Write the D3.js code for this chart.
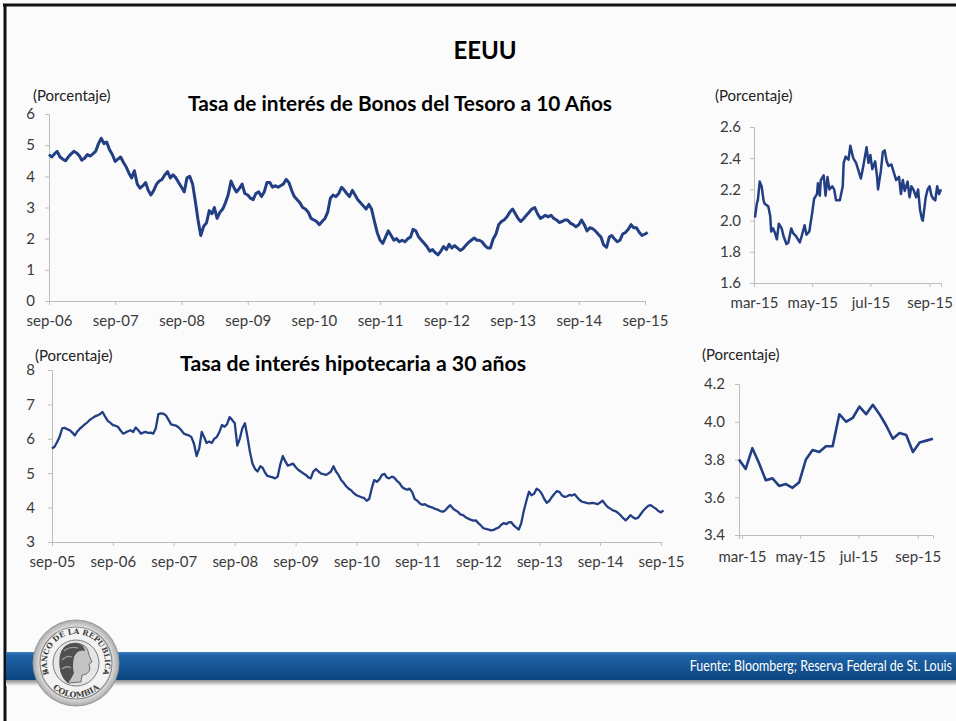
<!DOCTYPE html>
<html>
<head>
<meta charset="utf-8">
<script src="https://cdn.jsdelivr.net/npm/d3@7/dist/d3.min.js"></script>
<style>
  body { margin: 0; background: #fbfbfb; }
  text { font-family: Lato, "Noto Sans", sans-serif; }
</style>
</head>
<body>
<svg id="chart" width="956" height="721"></svg>
<script>
// Tasa bonos del Tesoro 10 años, quincenal (1 y 16 de cada mes) desde sep-06
const bonosStart = '2006-09-01'
const bonos10 = [
  4.70, 4.62, 4.72, 4.80, 4.62, 4.55, 4.50, 4.62,
  4.72, 4.80, 4.75, 4.65, 4.52, 4.58, 4.70, 4.65, 4.72, 4.80, 5.05, 5.22, 5.05, 5.10, 4.85, 4.70, 4.48, 4.55, 4.62, 4.45, 4.30, 4.10, 3.95, 4.18,
  3.75, 3.62, 3.70, 3.80, 3.55, 3.40, 3.55, 3.75, 3.85, 3.90, 4.05, 4.15, 3.95, 4.05, 3.95, 3.80, 3.65, 3.50, 3.95, 4.00, 3.75, 3.20, 2.60, 2.10,
  2.40, 2.50, 2.90, 2.80, 3.00, 2.65, 2.85, 2.95, 3.15, 3.40, 3.85, 3.65, 3.50, 3.60, 3.75, 3.45, 3.40, 3.30, 3.25, 3.45, 3.50, 3.35, 3.50, 3.80,
  3.80, 3.65, 3.70, 3.65, 3.70, 3.75, 3.90, 3.80, 3.55, 3.35, 3.25, 3.15, 3.00, 2.95, 2.85, 2.65, 2.60, 2.55, 2.45, 2.55, 2.65, 2.85, 3.30, 3.40,
  3.35, 3.45, 3.65, 3.55, 3.45, 3.35, 3.55, 3.40, 3.25, 3.15, 3.05, 2.95, 3.10, 2.95, 2.55, 2.20, 1.95, 1.85, 2.05, 2.25, 2.10, 1.95, 2.00, 1.90,
  1.95, 1.90, 2.00, 2.05, 2.30, 2.25, 2.05, 1.95, 1.85, 1.75, 1.60, 1.65, 1.55, 1.48, 1.60, 1.75, 1.65, 1.82, 1.70, 1.78, 1.70, 1.62, 1.68, 1.78,
  1.88, 1.95, 2.02, 1.95, 1.95, 1.90, 1.78, 1.70, 1.70, 1.98, 2.15, 2.45, 2.55, 2.60, 2.70, 2.85, 2.95, 2.80, 2.65, 2.55, 2.65, 2.75, 2.85, 2.95,
  3.00, 2.80, 2.65, 2.70, 2.75, 2.70, 2.75, 2.65, 2.60, 2.52, 2.55, 2.60, 2.60, 2.50, 2.45, 2.38, 2.45, 2.60, 2.45, 2.25, 2.35, 2.32, 2.25, 2.15,
  2.05, 1.80, 1.72, 2.05, 2.10, 2.00, 1.90, 1.95, 2.15, 2.20, 2.30, 2.45, 2.35, 2.35, 2.20, 2.10, 2.15, 2.20
]
const bonosLabels = ['sep-06', 'sep-07', 'sep-08', 'sep-09', 'sep-10', 'sep-11', 'sep-12', 'sep-13', 'sep-14', 'sep-15']
const bonosYTicks = [0, 1, 2, 3, 4, 5, 6]

// detalle 2015: días desde el 1 de marzo y tasa
const bonos2015Day = [
  1, 3, 4, 6, 8, 10, 11, 15, 17, 18, 20, 22, 24, 26, 29, 31, 34, 36, 39, 41, 44, 48, 50, 53, 55, 58,
  61, 63, 66, 67, 69, 70, 73, 75, 77, 79, 82, 84, 86, 90, 93, 94, 96, 99, 101, 104, 107, 109, 112, 114,
  116, 118, 120, 122, 124, 127, 129, 130, 133, 135, 137, 139, 141, 144, 147, 149, 152, 154, 156, 158,
  161, 163, 165, 167, 170, 172, 174, 176, 177, 180, 182, 184, 186, 188, 190, 192, 194, 196
]
const bonos2015 = [
  2.02, 2.11, 2.13, 2.25, 2.22, 2.13, 2.11, 2.09, 2.03, 1.93, 1.95, 1.92, 1.88, 1.98, 1.95, 1.90, 1.85, 1.86, 1.95, 1.92, 1.90, 1.86, 1.90, 1.97, 1.91, 1.93,
  2.05, 2.14, 2.17, 2.24, 2.16, 2.26, 2.29, 2.16, 2.28, 2.20, 2.22, 2.20, 2.13, 2.13, 2.22, 2.37, 2.41, 2.39, 2.48, 2.40, 2.37, 2.33, 2.27, 2.33,
  2.40, 2.47, 2.37, 2.42, 2.33, 2.38, 2.28, 2.20, 2.32, 2.44, 2.45, 2.38, 2.35, 2.36, 2.30, 2.26, 2.28, 2.17, 2.26, 2.19,
  2.25, 2.15, 2.22, 2.20, 2.15, 2.20, 2.07, 2.01, 2.00, 2.15, 2.20, 2.22, 2.16, 2.14, 2.13, 2.22, 2.17, 2.20
]
const bonos2015YTicks = [1.6, 1.8, 2.0, 2.2, 2.4, 2.6]
const detalleLabels = ['mar-15', 'may-15', 'jul-15', 'sep-15']

// Tasa hipotecaria 30 años, quincenal desde sep-05
const hipoStart = '2005-09-01'
const hipo30 = [
  5.72, 5.77, 5.90, 6.05, 6.30, 6.32, 6.28, 6.25,
  6.18, 6.10, 6.22, 6.30, 6.35, 6.42, 6.48, 6.55, 6.60, 6.65, 6.68, 6.72, 6.78, 6.65, 6.52, 6.47, 6.40, 6.38, 6.35, 6.25, 6.15, 6.18, 6.22, 6.25,
  6.20, 6.33, 6.25, 6.15, 6.18, 6.20, 6.17, 6.18, 6.15, 6.30, 6.72, 6.74, 6.73, 6.68, 6.55, 6.42, 6.40, 6.38, 6.33, 6.25, 6.15, 6.12, 6.10, 6.05,
  5.85, 5.50, 5.72, 6.20, 6.05, 5.88, 5.92, 5.88, 6.00, 6.05, 6.20, 6.40, 6.35, 6.42, 6.63, 6.55, 6.45, 5.80, 6.00, 6.30, 6.45, 6.05, 5.62, 5.28,
  5.12, 5.05, 5.20, 5.15, 5.02, 4.92, 4.90, 4.88, 4.85, 4.90, 5.25, 5.50, 5.35, 5.22, 5.25, 5.28, 5.18, 5.10, 5.05, 5.00, 4.95, 4.88, 4.85, 5.05,
  5.12, 5.05, 4.99, 4.97, 4.95, 4.99, 5.05, 5.20, 5.05, 4.95, 4.80, 4.72, 4.62, 4.55, 4.50, 4.42, 4.36, 4.33, 4.30, 4.28, 4.20, 4.25, 4.55, 4.80,
  4.75, 4.82, 4.95, 4.98, 4.88, 4.85, 4.90, 4.87, 4.78, 4.72, 4.60, 4.55, 4.52, 4.55, 4.45, 4.25, 4.20, 4.12, 4.08, 4.10, 4.05, 4.02, 4.00, 3.96,
  3.94, 3.90, 3.88, 3.92, 4.00, 4.07, 3.98, 3.92, 3.88, 3.80, 3.78, 3.72, 3.68, 3.65, 3.62, 3.63, 3.55, 3.48, 3.40, 3.38, 3.36, 3.34, 3.35, 3.39,
  3.42, 3.50, 3.55, 3.52, 3.57, 3.58, 3.48, 3.42, 3.36, 3.55, 3.92, 4.20, 4.46, 4.36, 4.40, 4.55, 4.50, 4.40, 4.25, 4.14, 4.20, 4.31, 4.40, 4.48,
  4.45, 4.35, 4.31, 4.33, 4.37, 4.35, 4.39, 4.30, 4.22, 4.17, 4.15, 4.13, 4.12, 4.14, 4.12, 4.10, 4.15, 4.20, 4.10, 4.02, 3.97, 3.92, 3.90, 3.85,
  3.78, 3.70, 3.63, 3.70, 3.78, 3.72, 3.68, 3.70, 3.80, 3.90, 3.98, 4.05, 4.07, 4.02, 3.97, 3.90, 3.86, 3.92
]
const hipoLabels = ['sep-05', 'sep-06', 'sep-07', 'sep-08', 'sep-09', 'sep-10', 'sep-11', 'sep-12', 'sep-13', 'sep-14', 'sep-15']
const hipoYTicks = [3, 4, 5, 6, 7, 8]

// detalle 2015 semanal desde el 26 de febrero
const hipo2015Start = '2015-02-26'
const hipo2015 = [
  3.80, 3.75, 3.86, 3.78, 3.69, 3.70, 3.66, 3.67, 3.65, 3.68, 3.80, 3.85, 3.84, 3.87, 3.87,
  4.04, 4.00, 4.02, 4.08, 4.04, 4.09, 4.04, 3.98, 3.91, 3.94, 3.93, 3.84, 3.89, 3.90, 3.91
]
const hipo2015YTicks = [3.4, 3.6, 3.8, 4.0, 4.2]

const parse = d3.timeParse('%Y-%m-%d')
const lineColor = '#223f84'

const svg = d3.select('#chart')

// semi-monthly dates: 1st and 16th
function halfMonths(start, n) {
  const s = parse(start)
  return d3.range(n).map(i => {
    const m = d3.timeMonth.offset(s, Math.floor(i / 2))
    return i % 2 ? d3.timeDay.offset(m, 15) : m
  })
}

function panel(o) {
  const x = d3.scaleTime().domain(o.xDomain).range([o.left, o.right])
  const y = d3.scaleLinear().domain(d3.extent(o.yTicks)).range([o.bottom, o.top])
  const g = svg.append('g')

  const xAxis = g.append('g')
    .attr('transform', `translate(0,${o.bottom})`)
    .call(d3.axisBottom(x).tickValues(o.xTicks).tickSizeOuter(0).tickSize(4)
      .tickPadding(o.xPad).tickFormat((d, i) => o.xLabels[i]))
  const yAxis = g.append('g')
    .attr('transform', `translate(${o.left},0)`)
    .call(d3.axisLeft(y).tickValues(o.yTicks).tickSizeOuter(0).tickSize(4)
      .tickPadding(o.yPad).tickFormat(o.fmt))
  ;[xAxis, yAxis].forEach(a => {
    a.select('.domain').attr('stroke', '#bdbdbd')
    a.selectAll('.tick line').attr('stroke', '#bdbdbd')
    a.selectAll('.tick text').attr('fill', '#3a3a3a').style('font-size', '15px')
    a.attr('font-family', null)
  })

  g.append('path')
    .datum(o.dates.map((d, i) => [d, o.values[i]]))
    .attr('fill', 'none')
    .attr('stroke', lineColor)
    .attr('stroke-width', o.width)
    .attr('stroke-linejoin', 'round')
    .attr('d', d3.line().x(d => x(d[0])).y(d => y(d[1])))
}

// borders
svg.append('line').attr('x1', 3).attr('x2', 956).attr('y1', 5).attr('y2', 5).attr('stroke', '#111').attr('stroke-width', 3)
svg.append('line').attr('x1', 5).attr('x2', 5).attr('y1', 4).attr('y2', 721).attr('stroke', '#111').attr('stroke-width', 3)

// main titles
svg.append('text').attr('x', 485).attr('y', 59).attr('text-anchor', 'middle')
  .style('font-size', '24px').style('font-weight', 'bold').text('EEUU')
svg.append('text').attr('x', 188).attr('y', 111).attr('textLength', 424).attr('lengthAdjust', 'spacingAndGlyphs')
  .style('font-size', '21px').style('font-weight', 'bold').text('Tasa de interés de Bonos del Tesoro a 10 Años')
svg.append('text').attr('x', 180).attr('y', 371).attr('textLength', 346).attr('lengthAdjust', 'spacingAndGlyphs')
  .style('font-size', '21px').style('font-weight', 'bold').text('Tasa de interés hipotecaria a 30 años')

// unit labels
;[[33, 101], [715, 101], [35, 361], [702, 360]].forEach(p => {
  svg.append('text').attr('x', p[0]).attr('y', p[1]).attr('fill', '#222')
    .style('font-size', '15px').text('(Porcentaje)')
})

// top-left: bonos 10 años
const bonosDates = halfMonths(bonosStart, bonos10.length)
const bonosTickDates = bonosLabels.map((l, i) => d3.timeYear.offset(parse(bonosStart), i))
panel({
  left: 49, right: 645, top: 114, bottom: 301,
  xDomain: [bonosTickDates[0], bonosTickDates[bonosTickDates.length - 1]],
  xTicks: bonosTickDates, xLabels: bonosLabels, xPad: 10,
  yTicks: bonosYTicks, fmt: d3.format('d'), yPad: 10,
  dates: bonosDates, values: bonos10, width: 3
})

// top-right: bonos 2015
const mar1 = parse('2015-03-01')
const detalleTicks = detalleLabels.map((l, i) => d3.timeMonth.offset(mar1, i * 2))
panel({
  left: 754, right: 941, top: 127, bottom: 283,
  xDomain: [mar1, d3.timeDay.offset(mar1, d3.max(bonos2015Day))],
  xTicks: detalleTicks, xLabels: detalleLabels, xPad: 10,
  yTicks: bonos2015YTicks, fmt: d3.format('.1f'), yPad: 9,
  dates: bonos2015Day.map(d => d3.timeDay.offset(mar1, d)), values: bonos2015, width: 2.5
})

// bottom-left: hipotecaria 30 años
const hipoDates = halfMonths(hipoStart, hipo30.length)
const hipoTickDates = hipoLabels.map((l, i) => d3.timeYear.offset(parse(hipoStart), i))
panel({
  left: 52, right: 661, top: 370, bottom: 542,
  xDomain: [hipoTickDates[0], hipoTickDates[hipoTickDates.length - 1]],
  xTicks: hipoTickDates, xLabels: hipoLabels, xPad: 10,
  yTicks: hipoYTicks, fmt: d3.format('d'), yPad: 13,
  dates: hipoDates, values: hipo30, width: 2.3
})

// bottom-right: hipotecaria 2015
const hipo2015Dates = hipo2015.map((v, i) => d3.timeDay.offset(parse(hipo2015Start), i * 7))
panel({
  left: 739, right: 933, top: 384, bottom: 535,
  xDomain: [hipo2015Dates[0], hipo2015Dates[hipo2015Dates.length - 1]],
  xTicks: detalleTicks, xLabels: detalleLabels, xPad: 12,
  yTicks: hipo2015YTicks, fmt: d3.format('.1f'), yPad: 10,
  dates: hipo2015Dates, values: hipo2015, width: 2.6
})

// footer band
const defs = svg.append('defs')
const bandGrad = defs.append('linearGradient').attr('id', 'band').attr('x1', 0).attr('x2', 0).attr('y1', 0).attr('y2', 1)
bandGrad.append('stop').attr('offset', '0%').attr('stop-color', '#3d7fbf')
bandGrad.append('stop').attr('offset', '12%').attr('stop-color', '#1f63a8')
bandGrad.append('stop').attr('offset', '100%').attr('stop-color', '#0b457f')
const shadowGrad = defs.append('linearGradient').attr('id', 'shadow').attr('x1', 0).attr('x2', 0).attr('y1', 0).attr('y2', 1)
shadowGrad.append('stop').attr('offset', '0%').attr('stop-color', '#8c8c8c')
shadowGrad.append('stop').attr('offset', '100%').attr('stop-color', '#fbfbfb')
const ringGrad = defs.append('radialGradient').attr('id', 'ring')
ringGrad.append('stop').attr('offset', '78%').attr('stop-color', '#f4f4f4')
ringGrad.append('stop').attr('offset', '100%').attr('stop-color', '#a9a9a9')

svg.append('rect').attr('x', 6).attr('y', 680).attr('width', 950).attr('height', 6).attr('fill', 'url(#shadow)')
svg.append('rect').attr('x', 6).attr('y', 652).attr('width', 950).attr('height', 28).attr('fill', 'url(#band)')
svg.append('text').attr('transform', 'translate(952,671) scale(0.86,1)').attr('text-anchor', 'end')
  .attr('fill', '#fff').style('font-size', '14.5px').text('Fuente: Bloomberg; Reserva Federal de St. Louis')

// logo Banco de la República
const logo = svg.append('g').attr('transform', 'translate(76,663)')
logo.append('circle').attr('r', 43).attr('fill', 'url(#ring)').attr('stroke', '#999')
logo.append('circle').attr('r', 36).attr('fill', '#f3f3f3').attr('stroke', '#8a8a8a').attr('stroke-width', 1.2)
logo.append('circle').attr('r', 23).attr('fill', '#e6e6e6').attr('stroke', '#7a7a7a')
defs.append('path').attr('id', 'arcTop').attr('d', 'M -21.6 19.3 A 29 29 0 1 1 21.6 19.3')
defs.append('path').attr('id', 'arcBot').attr('d', 'M -28 20 A 34.4 34.4 0 0 0 28 20')
logo.append('text').style('font-size', '7.5px').style('font-weight', 'bold').attr('fill', '#3c3c3c')
  .style('font-family', '"DejaVu Serif", serif')
  .append('textPath').attr('href', '#arcTop').attr('startOffset', '50%').attr('text-anchor', 'middle')
  .text('BANCO DE LA REPUBLICA')
logo.append('text').style('font-size', '8px').style('font-weight', 'bold').attr('fill', '#3c3c3c')
  .style('font-family', '"DejaVu Serif", serif')
  .append('textPath').attr('href', '#arcBot').attr('startOffset', '50%').attr('text-anchor', 'middle')
  .text('COLOMBIA')
logo.append('circle').attr('cx', -30).attr('cy', 8).attr('r', 1.3).attr('fill', '#444')
logo.append('circle').attr('cx', 30).attr('cy', 8).attr('r', 1.3).attr('fill', '#444')
// head in profile
logo.append('path')
  .attr('d', 'M -16 -6 Q -14 -20 0 -20 Q 12 -19 13 -8 L 16 -1 L 13 1 L 14 6 Q 12 12 6 12 L 5 19 L -8 20 Q -18 12 -16 -6 Z')
  .attr('fill', '#c4c4c4').attr('stroke', '#555').attr('stroke-width', 0.8)
logo.append('path')
  .attr('d', 'M -16 -6 Q -14 -20 0 -20 Q 8 -19 9 -12 Q 2 -14 -2 -6 Q -4 4 -2 10 Q -6 18 -8 20 Q -18 12 -16 -6 Z')
  .attr('fill', '#4f4f4f')
logo.append('path').attr('d', 'M -12 -12 Q -6 -17 2 -15 M -14 -3 Q -9 -8 -4 -6 M -14 6 Q -9 2 -5 5')
  .attr('stroke', '#9a9a9a').attr('fill', 'none').attr('stroke-width', 1.3)
</script>
</body>
</html>
